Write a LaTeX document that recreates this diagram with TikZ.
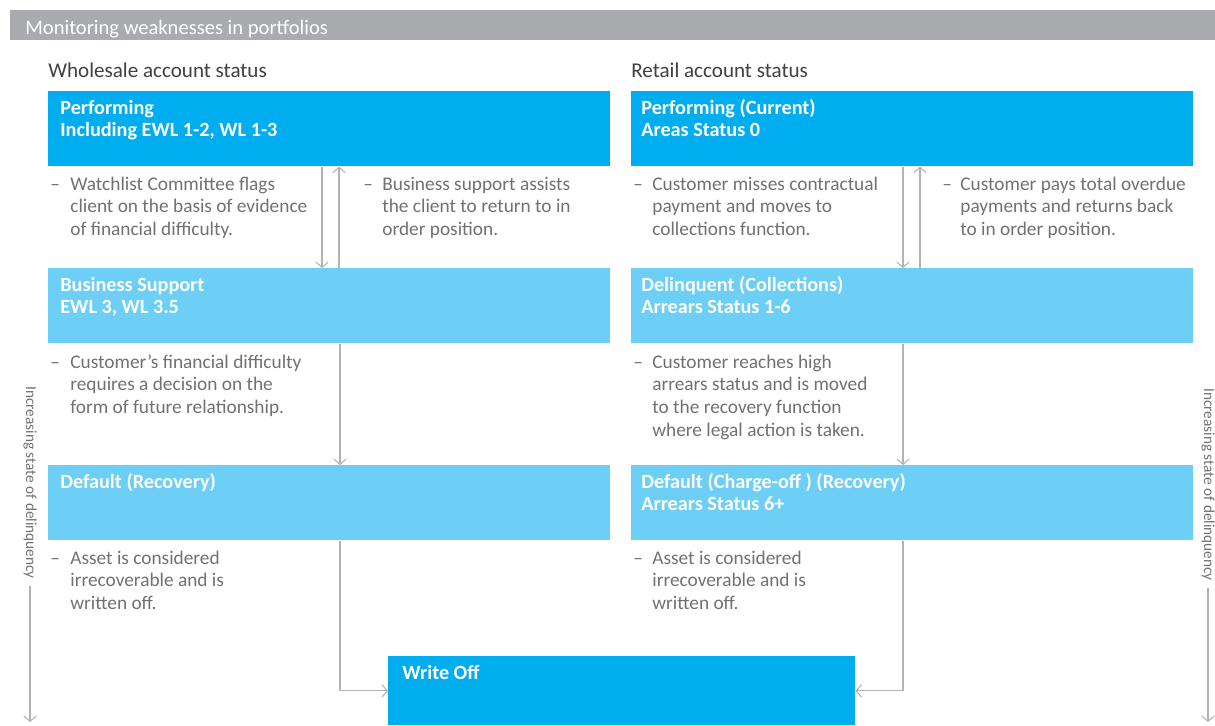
\documentclass[tikz,border=0pt]{standalone}
\usepackage{fontspec}
\setmainfont{Carlito}
\usetikzlibrary{arrows.meta,positioning}

\definecolor{cyandark}{HTML}{00AEEF}
\definecolor{cyanlight}{HTML}{6DCFF6}
\definecolor{bargrey}{HTML}{AAABAE}
\definecolor{textgrey}{HTML}{707173}
\definecolor{arrowgrey}{HTML}{B3B3B3}

% lines stacked from the first baseline
\newcommand{\stacklines}[1]{\begin{tabular}[t]{@{}l@{}}#1\end{tabular}}

\begin{document}
\begin{tikzpicture}[
        x=0.02cm,
        y=-0.02cm,
        font=\fontsize{11}{13}\selectfont,
        box-dark/.style={
            fill=cyandark,
            minimum width=11.24cm,
            minimum height=1.5cm,
            anchor=north west,
            inner sep=0pt,
        },
        box-light/.style={
            box-dark,
            fill=cyanlight,
        },
        box-text/.style={
            anchor=base west,
            text=white,
            inner sep=0pt,
            font=\fontsize{11.5}{13}\selectfont\bfseries,
        },
        note/.style={
            anchor=base west,
            text=textgrey,
            inner sep=0pt,
        },
        heading/.style={
            anchor=base west,
            text=black!75,
            inner sep=0pt,
            font=\fontsize{12}{14}\selectfont,
        },
        flow/.style={
            draw=arrowgrey,
            line width=0.6pt,
            -{Straight Barb[length=3pt,width=7pt]},
        },
        side/.style={
            rotate=-90,
            anchor=west,
            inner sep=0pt,
            text=textgrey,
            font=\fontsize{8.7}{10}\selectfont,
        },
    ]

    \useasboundingbox (0,0) rectangle (1215,725);

    % Title bar.
    \fill[bargrey] (10,10) rectangle (1215,40);
    \node[heading, text=white, font=\fontsize{11.7}{14}\selectfont] (title) at (25,34) {Monitoring weaknesses in portfolios};

    % Column headings.
    \node[heading] (whead) at (48,77) {Wholesale account status};
    \node[heading] (rhead) at (631,77) {Retail account status};

    % Status boxes.
    \node[box-dark] (w1) at (48,91) {};
    \node[box-light] (w2) at (48,268) {};
    \node[box-light] (w3) at (48,465) {};
    \node[box-dark] (r1) at (631,91) {};
    \node[box-light] (r2) at (631,268) {};
    \node[box-light] (r3) at (631,465) {};
    \node[box-dark, minimum width=9.34cm, minimum height=1.38cm] (wo) at (388,656) {};

    \node[box-text] (w1t) at (60,114) {\stacklines{Performing\\Including EWL 1-2, WL 1-3}};
    \node[box-text] (w2t) at (60,291) {\stacklines{Business Support\\EWL 3, WL 3.5}};
    \node[box-text] (w3t) at (60,488) {Default (Recovery)};
    \node[box-text] (r1t) at (641,114) {\stacklines{Performing (Current)\\Areas Status 0}};
    \node[box-text] (r2t) at (641,291) {\stacklines{Delinquent (Collections)\\Arrears Status 1-6}};
    \node[box-text] (r3t) at (641,488) {\stacklines{Default (Charge-off ) (Recovery)\\Arrears Status 6+}};
    \node[box-text] (wot) at (402,679) {Write Off};

    % Notes.
    \node[note] (w1d) at (50,190) {–};
    \node[note] (w1n) at (70,190) {\stacklines{Watchlist Committee flags\\client on the basis of evidence\\of financial difficulty.}};
    \node[note] (w1e) at (363,190) {–};
    \node[note] (w1m) at (382,190) {\stacklines{Business support assists\\the client to return to in\\order position.}};
    \node[note] (w2d) at (50,368) {–};
    \node[note] (w2n) at (70,368) {\stacklines{Customer’s financial difficulty\\requires a decision on the\\form of future relationship.}};
    \node[note] (w3d) at (50,564) {–};
    \node[note] (w3n) at (70,564) {\stacklines{Asset is considered\\irrecoverable and is\\written off.}};

    \node[note] (r1d) at (633,190) {–};
    \node[note] (r1n) at (652,190) {\stacklines{Customer misses contractual\\payment and moves to\\collections function.}};
    \node[note] (r1e) at (942,190) {–};
    \node[note] (r1m) at (960,190) {\stacklines{Customer pays total overdue\\payments and returns back\\to in order position.}};
    \node[note] (r2d) at (633,368) {–};
    \node[note] (r2n) at (652,368) {\stacklines{Customer reaches high\\arrears status and is moved\\to the recovery function\\where legal action is taken.}};
    \node[note] (r3d) at (633,564) {–};
    \node[note] (r3n) at (652,564) {\stacklines{Asset is considered\\irrecoverable and is\\written off.}};

    % Arrow columns.
    \coordinate (wdown) at (322,0);
    \coordinate (wup) at (339,0);
    \coordinate (wmid) at (340,0);
    \coordinate (rdown) at (903,0);
    \coordinate (rup) at (920,0);

    \draw[flow] (w1.south -| wdown) -- (w2.north -| wdown);
    \draw[flow] (w2.north -| wup) -- (w1.south -| wup);
    \draw[flow] (w2.south -| wmid) -- (w3.north -| wmid);
    \draw[flow] (w3.south -| wmid) |- (wo.west);

    \draw[flow] (r1.south -| rdown) -- (r2.north -| rdown);
    \draw[flow] (r2.north -| rup) -- (r1.south -| rup);
    \draw[flow] (r2.south -| rdown) -- (r3.north -| rdown);
    \draw[flow] (r3.south -| rdown) |- (wo.east);

    % Side labels.
    \node[side] (lside) at (30,386) {Increasing state of delinquency};
    \node[side] (rside) at (1208,388) {Increasing state of delinquency};
    \coordinate (lend) at (30,722);
    \coordinate (rend) at (1208,722);
    \draw[flow] ([yshift=-4pt]lside.east) -- (lend);
    \draw[flow] ([yshift=-4pt]rside.east) -- (rend);
\end{tikzpicture}
\end{document}
